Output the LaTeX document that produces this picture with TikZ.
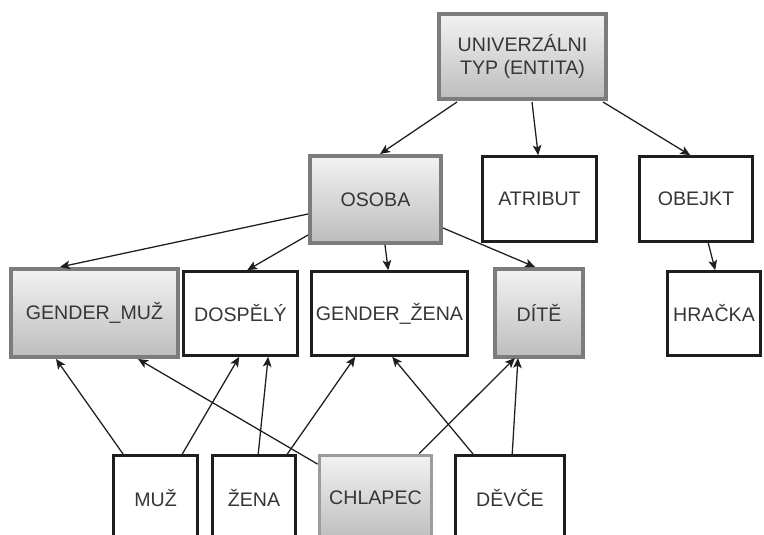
\documentclass[tikz,border=0pt]{standalone}
\usepackage{fontspec}
\setmainfont{Liberation Sans}
\usetikzlibrary{calc,arrows.meta}

\definecolor{txt}{HTML}{363636}
\definecolor{ink}{HTML}{1E1E1E}
\definecolor{rimgray}{HTML}{7C7C7C}
\definecolor{rimlight}{HTML}{9C9C9C}
\definecolor{shadetop}{HTML}{F2F2F2}
\definecolor{shadebot}{HTML}{BDBDBD}

\tikzset{
  box/.style 2 args={rectangle, inner sep=0pt, outer sep=0pt,
    minimum width=#1*0.75pt, minimum height=#2*0.75pt,
    text=txt, align=center,
    font=\fontsize{14.7}{16.8}\selectfont},
  plainbox/.style={draw=ink, line width=2pt, fill=white},
  keybox/.style={draw=rimgray, line width=3.2pt, top color=shadetop, bottom color=shadebot},
  softbox/.style={draw=rimlight, line width=2.2pt, top color=shadetop, bottom color=shadebot},
  link/.style={draw=ink, line width=0.95pt, -{Stealth[length=7.5pt,width=6.5pt,inset=1.8pt]}},
}

\begin{document}
\begin{tikzpicture}[x=0.75pt, y=-0.75pt]
\clip (0,0) rectangle (764,535);
\fill[white] (0,0) rectangle (764,535);

% top level
\node[box={167}{85}, keybox] (univ) at (522.5,56.5) {UNIVERZÁLNI\\TYP (ENTITA)};

% second level
\node[box={131}{87}, keybox] (osoba) at (375.5,199.5) {OSOBA};
\node[box={114.6}{85.6}, plainbox] (atribut) at (539.5,199) {ATRIBUT};
\node[box={113.6}{85.6}, plainbox] (obejkt) at (696,199) {OBEJKT};

% third level
\node[box={167}{88}, keybox] (gmuz) at (94.5,313) {GENDER\_MUŽ};
\node[box={114.6}{84.6}, plainbox] (dospely) at (240.5,313.5) {DOSPĚLÝ};
\node[box={156.6}{84.6}, plainbox] (gzena) at (389.5,313.5) {GENDER\_ŽENA};
\node[box={88}{88}, keybox] (dite) at (539,313) {DÍTĚ};
\node[box={93.6}{84.6}, plainbox] (hracka) at (714,313.5) {HRAČKA};

% bottom level
\node[box={84.6}{85.6}, plainbox] (muz) at (155.5,498) {MUŽ};
\node[box={83.6}{85.6}, plainbox] (zena) at (254,498) {ŽENA};
\node[box={112.8}{85.8}, softbox] (chlapec) at (375.5,498) {CHLAPEC};
\node[box={109.6}{85.6}, plainbox] (devce) at (510,498) {DĚVČE};

% links from the root
\draw[link] ($(univ.south west)+(18,3)$) -- ($(osoba.north west)+(70,-2)$);
\draw[link] ($(univ.south west)+(93,3)$) -- ($(atribut.north west)+(56,-1)$);
\draw[link] ($(univ.south east)+(-3,3)$) -- ($(obejkt.north west)+(51,-1)$);

% links from OSOBA and OBEJKT
\draw[link] ($(osoba.north west)+(-2,58)$) -- ($(gmuz.north west)+(49,-2)$);
\draw[link] ($(osoba.north west)+(-2,79)$) -- ($(dospely.north west)+(64,-1)$);
\draw[link] ($(osoba.south west)+(75,2)$) -- ($(gzena.north west)+(77,-1)$);
\draw[link] ($(osoba.north east)+(2,72)$) -- ($(dite.north west)+(40,-2)$);
\draw[link] ($(obejkt.south west)+(69,1)$) -- ($(hracka.north west)+(48,-1)$);

% links from the bottom row
\draw[link] ($(muz.north west)+(10,-1)$) -- ($(gmuz.south west)+(45,2)$);
\draw[link] ($(muz.north west)+(69,-1)$) -- ($(dospely.south west)+(56,1)$);
\draw[link] ($(zena.north west)+(46,-1)$) -- ($(dospely.south west)+(85,1)$);
\draw[link] ($(zena.north west)+(75,-1)$) -- ($(gzena.south west)+(44,1)$);
\draw[link] ($(chlapec.north west)+(-1.5,9)$) -- ($(gmuz.south west)+(127,2)$);
\draw[link] ($(chlapec.north west)+(100,-1.5)$) -- ($(dite.south west)+(20,1)$);
\draw[link] ($(devce.north west)+(18,-1)$) -- ($(gzena.south west)+(81,1)$);
\draw[link] ($(devce.north west)+(57,-1)$) -- ($(dite.south west)+(23,1)$);
\end{tikzpicture}
\end{document}
